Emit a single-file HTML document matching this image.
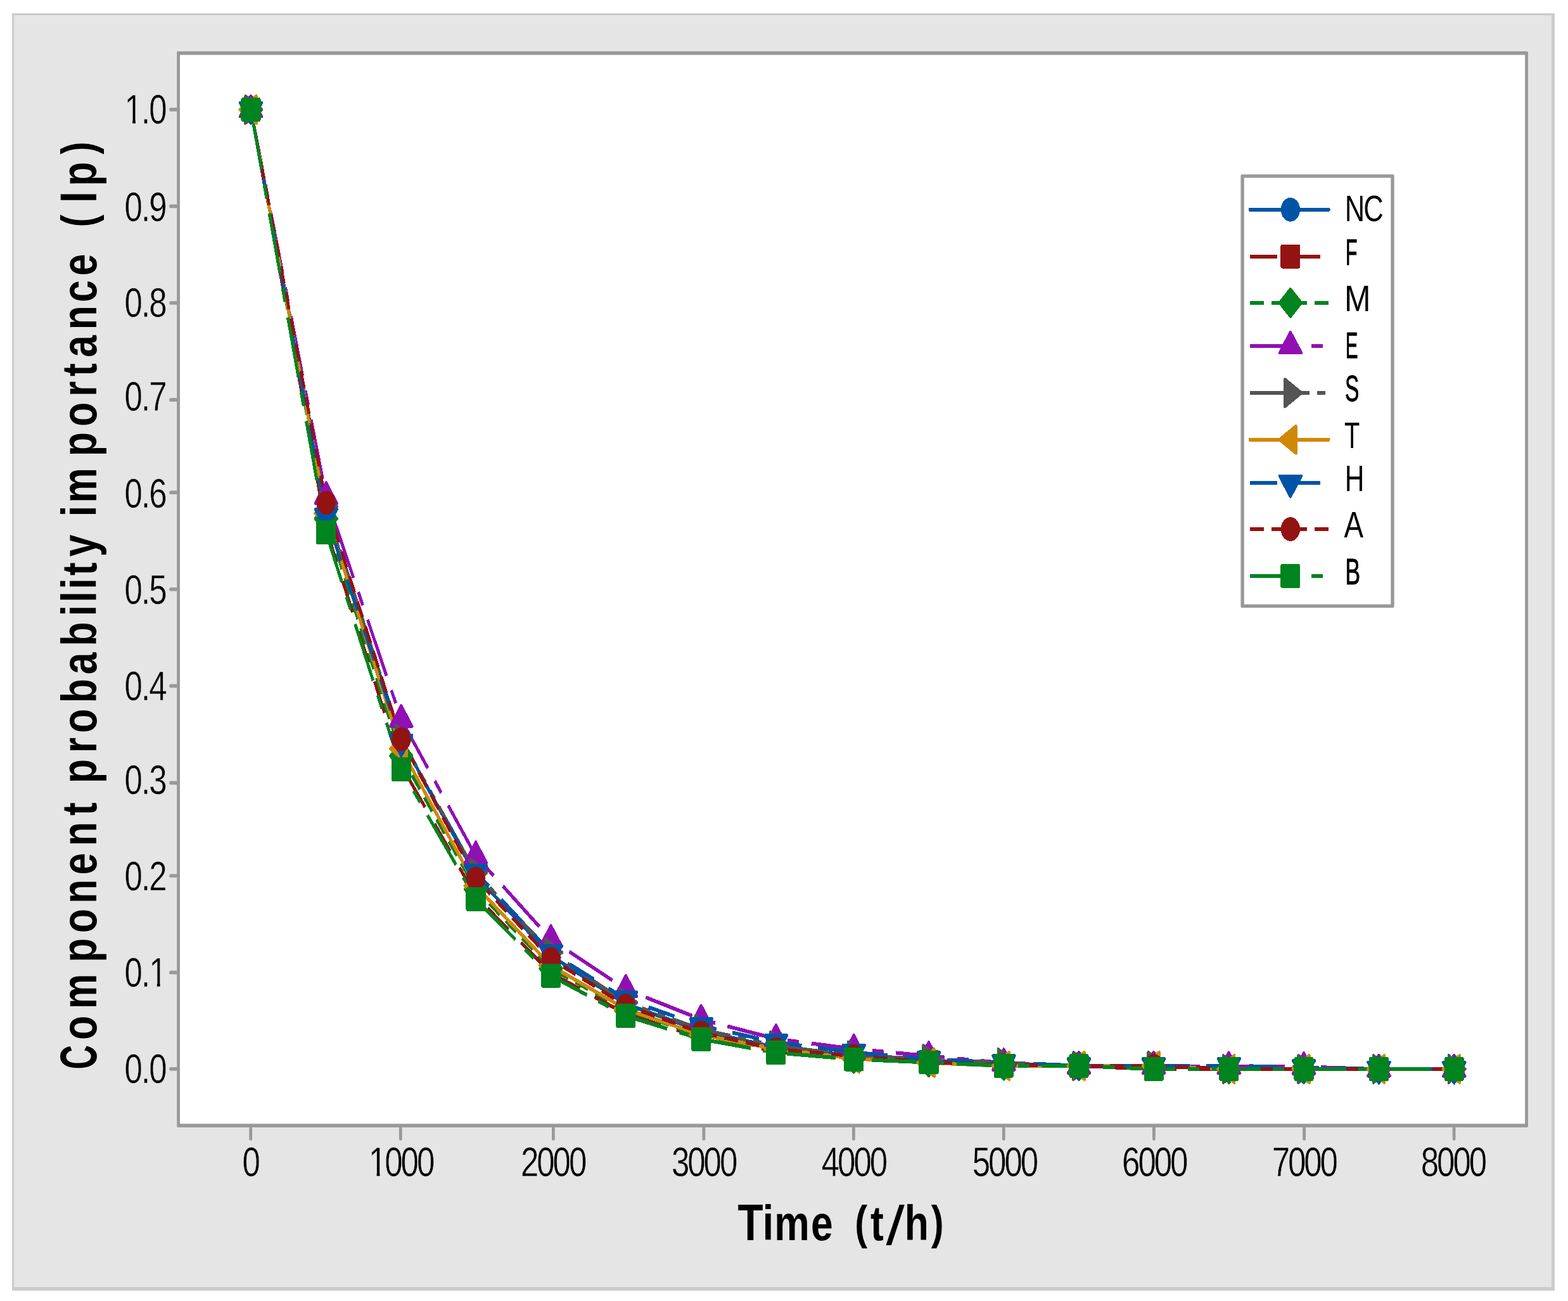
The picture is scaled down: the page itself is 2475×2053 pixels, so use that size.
<!DOCTYPE html>
<html lang="en">
<head>
<meta charset="utf-8">
<title>Component probability importance (Ip) vs Time (t/h)</title>
<style>
html,body{margin:0;padding:0;background:#ffffff;}
body{width:2475px;height:2053px;overflow:hidden;}
svg{display:block;}
text{font-family:"Liberation Sans",sans-serif;white-space:pre;}
</style>
</head>
<body>
<svg width="2475" height="2053" viewBox="0 0 2475 2053">
<rect x="19" y="21" width="2434.9" height="2015.7" fill="#cbcbcb"/>
<rect x="22.1" y="24" width="2426.8" height="2007" fill="#e5e5e5"/>
<rect x="279.2" y="81.1" width="2132.8" height="1697.9" rx="2" fill="#999999"/>
<rect x="284" y="86.7" width="2123.1" height="1686.6" fill="#ffffff"/>
<path d="M270 172.9 H280.2" stroke="#999999" stroke-width="5.7" stroke-linecap="round" fill="none"/>
<path d="M270 325.4 H280.2" stroke="#999999" stroke-width="5.7" stroke-linecap="round" fill="none"/>
<path d="M270 478 H280.2" stroke="#999999" stroke-width="5.7" stroke-linecap="round" fill="none"/>
<path d="M270 630.9 H280.2" stroke="#999999" stroke-width="5.7" stroke-linecap="round" fill="none"/>
<path d="M270 777.2 H280.2" stroke="#999999" stroke-width="5.7" stroke-linecap="round" fill="none"/>
<path d="M270 929.9 H280.2" stroke="#999999" stroke-width="5.7" stroke-linecap="round" fill="none"/>
<path d="M270 1082.4 H280.2" stroke="#999999" stroke-width="5.7" stroke-linecap="round" fill="none"/>
<path d="M270 1235.3 H280.2" stroke="#999999" stroke-width="5.7" stroke-linecap="round" fill="none"/>
<path d="M270 1382 H280.2" stroke="#999999" stroke-width="5.7" stroke-linecap="round" fill="none"/>
<path d="M270 1534.7 H280.2" stroke="#999999" stroke-width="5.7" stroke-linecap="round" fill="none"/>
<path d="M270 1686.9 H280.2" stroke="#999999" stroke-width="5.7" stroke-linecap="round" fill="none"/>
<path d="M395.7 1778 V1797.4" stroke="#999999" stroke-width="4.8" stroke-linecap="round" fill="none"/>
<path d="M632.3 1778 V1797.4" stroke="#999999" stroke-width="4.8" stroke-linecap="round" fill="none"/>
<path d="M873.4 1778 V1797.4" stroke="#999999" stroke-width="4.8" stroke-linecap="round" fill="none"/>
<path d="M1110.9 1778 V1797.4" stroke="#999999" stroke-width="4.8" stroke-linecap="round" fill="none"/>
<path d="M1347.4 1778 V1797.4" stroke="#999999" stroke-width="4.8" stroke-linecap="round" fill="none"/>
<path d="M1584.3 1778 V1797.4" stroke="#999999" stroke-width="4.8" stroke-linecap="round" fill="none"/>
<path d="M1821.4 1778 V1797.4" stroke="#999999" stroke-width="4.8" stroke-linecap="round" fill="none"/>
<path d="M2058.6 1778 V1797.4" stroke="#999999" stroke-width="4.8" stroke-linecap="round" fill="none"/>
<path d="M2295.1 1778 V1797.4" stroke="#999999" stroke-width="4.8" stroke-linecap="round" fill="none"/>
<text transform="translate(198 195.3) scale(0.785 1)" x="-1.96 31.73 47.34" y="0" font-size="65" font-weight="normal" fill="#000" stroke="#e5e5e5" stroke-width="0.5">1.0</text><rect transform="translate(198 195.3) scale(0.785 1)" x="1.85" y="-5.4" width="12.31" height="6.03" fill="#e5e5e5"/><rect transform="translate(198 195.3) scale(0.785 1)" x="20.35" y="-5.4" width="11.81" height="6.03" fill="#e5e5e5"/>
<text transform="translate(198 348.8) scale(0.785 1)" x="-1.96 31.73 47.34" y="0" font-size="65" font-weight="normal" fill="#000" stroke="#e5e5e5" stroke-width="0.5">0.9</text>
<text transform="translate(198 500.2) scale(0.785 1)" x="-1.96 31.73 47.34" y="0" font-size="65" font-weight="normal" fill="#000" stroke="#e5e5e5" stroke-width="0.5">0.8</text>
<text transform="translate(198 647.7) scale(0.785 1)" x="-1.96 31.73 47.34" y="0" font-size="65" font-weight="normal" fill="#000" stroke="#e5e5e5" stroke-width="0.5">0.7</text>
<text transform="translate(198 801) scale(0.785 1)" x="-1.96 31.73 47.34" y="0" font-size="65" font-weight="normal" fill="#000" stroke="#e5e5e5" stroke-width="0.5">0.6</text>
<text transform="translate(198 952.7) scale(0.785 1)" x="-1.96 31.73 47.34" y="0" font-size="65" font-weight="normal" fill="#000" stroke="#e5e5e5" stroke-width="0.5">0.5</text>
<text transform="translate(198 1104.8) scale(0.785 1)" x="-1.96 31.73 47.34" y="0" font-size="65" font-weight="normal" fill="#000" stroke="#e5e5e5" stroke-width="0.5">0.4</text>
<text transform="translate(198 1252.5) scale(0.785 1)" x="-1.96 31.73 47.34" y="0" font-size="65" font-weight="normal" fill="#000" stroke="#e5e5e5" stroke-width="0.5">0.3</text>
<text transform="translate(198 1404.8) scale(0.785 1)" x="-1.96 31.73 47.34" y="0" font-size="65" font-weight="normal" fill="#000" stroke="#e5e5e5" stroke-width="0.5">0.2</text>
<text transform="translate(198 1557.3) scale(0.785 1)" x="-1.96 31.73 47.34" y="0" font-size="65" font-weight="normal" fill="#000" stroke="#e5e5e5" stroke-width="0.5">0.1</text><rect transform="translate(198 1557.3) scale(0.785 1)" x="51.15" y="-5.4" width="12.31" height="6.03" fill="#e5e5e5"/><rect transform="translate(198 1557.3) scale(0.785 1)" x="69.65" y="-5.4" width="11.81" height="6.03" fill="#e5e5e5"/>
<text transform="translate(198 1709.4) scale(0.785 1)" x="-1.96 31.73 47.34" y="0" font-size="65" font-weight="normal" fill="#000" stroke="#e5e5e5" stroke-width="0.5">0.0</text>
<text transform="translate(384.05 1856.2) scale(0.785 1)" x="-1.96" y="0" font-size="65" font-weight="normal" fill="#000" stroke="#e5e5e5" stroke-width="0.5">0</text>
<text transform="translate(583.55 1856.2) scale(0.785 1)" x="-1.96 30.27 62.5 94.73" y="0" font-size="65" font-weight="normal" fill="#000" stroke="#e5e5e5" stroke-width="0.5">1000</text><rect transform="translate(583.55 1856.2) scale(0.785 1)" x="1.85" y="-5.4" width="12.31" height="6.03" fill="#e5e5e5"/><rect transform="translate(583.55 1856.2) scale(0.785 1)" x="20.35" y="-5.4" width="11.81" height="6.03" fill="#e5e5e5"/>
<text transform="translate(823.55 1856.2) scale(0.785 1)" x="-1.96 30.27 62.5 94.73" y="0" font-size="65" font-weight="normal" fill="#000" stroke="#e5e5e5" stroke-width="0.5">2000</text>
<text transform="translate(1061.55 1856.2) scale(0.785 1)" x="-1.96 30.27 62.5 94.73" y="0" font-size="65" font-weight="normal" fill="#000" stroke="#e5e5e5" stroke-width="0.5">3000</text>
<text transform="translate(1298.35 1856.2) scale(0.785 1)" x="-1.96 30.27 62.5 94.73" y="0" font-size="65" font-weight="normal" fill="#000" stroke="#e5e5e5" stroke-width="0.5">4000</text>
<text transform="translate(1536.35 1856.2) scale(0.785 1)" x="-1.96 30.27 62.5 94.73" y="0" font-size="65" font-weight="normal" fill="#000" stroke="#e5e5e5" stroke-width="0.5">5000</text>
<text transform="translate(1772.65 1856.2) scale(0.785 1)" x="-1.96 30.27 62.5 94.73" y="0" font-size="65" font-weight="normal" fill="#000" stroke="#e5e5e5" stroke-width="0.5">6000</text>
<text transform="translate(2009.25 1856.2) scale(0.785 1)" x="-1.96 30.27 62.5 94.73" y="0" font-size="65" font-weight="normal" fill="#000" stroke="#e5e5e5" stroke-width="0.5">7000</text>
<text transform="translate(2244.35 1856.2) scale(0.785 1)" x="-1.96 30.27 62.5 94.73" y="0" font-size="65" font-weight="normal" fill="#000" stroke="#e5e5e5" stroke-width="0.5">8000</text>
<text transform="translate(0 1957.1) scale(0.8 1)" x="1455.62 1504.64 1527.67 1600.12 1643.5 1686.65 1717.64 1748.04 1784.62 1837.29" y="0 0 0 0 0 -2.6 0 7 0 -2.6" font-size="78" font-weight="bold" fill="#000" xml:space="preserve"><tspan font-size="82">T</tspan>ime <tspan font-size="74.5">(</tspan>t<tspan font-size="88" font-weight="normal" textLength="36.67" lengthAdjust="spacingAndGlyphs">/</tspan>h<tspan font-size="74.5">)</tspan></text>
<text transform="translate(151.8 1686) rotate(-90) scale(0.8 1)" x="-1.94 56.3 117.61 209.39 267.3 325.4 381.99 438.77 498.64 524.61 562.52 622.4 661.68 720.89 777.11 833.08 892.27 919.33 945.39 972.08 1009.53 1052.91 1088.58 1115.73 1207.52 1266.18 1325.34 1365.08 1402.86 1457.27 1511.18 1563.37 1606.75 1659.28 1707.23 1740.58 1803.04" y="0 0 0 0 0 0 0 0 0 0 0 0 0 0 0 0 0 0 0 0 0 0 0 0 0 0 0 0 0 0 0 0 0 -2.6 0 0 -2.6" font-size="78" font-weight="bold" fill="#000" xml:space="preserve"><tspan font-size="82" textLength="47.97" lengthAdjust="spacingAndGlyphs">C</tspan>omponent probability importance <tspan font-size="74.5">(</tspan><tspan font-size="82">I</tspan>p<tspan font-size="74.5">)</tspan></text>
<g transform="scale(0.8 1)" shape-rendering="crispEdges">
<polyline points="495,173 643.38,805 791.62,1166.35 938.75,1381.95 1087,1508.15 1234.88,1584.45 1383.38,1626.9 1531.12,1652.9 1684.5,1666.2 1832.5,1673.5 1980.5,1679 2128.75,1682 2276.37,1682 2424.62,1687 2572.5,1687 2720.62,1687 2869.12,1687" fill="none" stroke="#0054A6" stroke-width="6" stroke-linejoin="round"/>
<polyline points="495,173 643.38,834.3 791.62,1207.9 938.75,1414.1 1087,1535.7 1234.88,1600.1 1383.38,1637.3 1531.12,1659.2 1684.5,1670.1 1832.5,1675.5 1980.5,1681.4 2128.75,1682 2276.37,1687.1 2424.62,1686.8 2572.5,1687 2720.62,1687 2869.12,1687" fill="none" stroke="#931313" stroke-width="6" stroke-linejoin="round" stroke-dasharray="53.1 32.1"/>
<polyline points="495,173 643.38,818.5 791.62,1192.8 938.75,1403.3 1087,1528.4 1234.88,1594 1383.38,1634.5 1531.12,1655.4 1684.5,1670.3 1832.5,1676.3 1980.5,1681.4 2128.75,1682 2276.37,1682 2424.62,1687 2572.5,1687 2720.62,1687 2869.12,1687" fill="none" stroke="#00841F" stroke-width="6" stroke-linejoin="round" stroke-dasharray="27.2 15.2"/>
<polyline points="495,173 643.38,783.4 791.62,1135.3 938.75,1350.7 1087,1482.5 1234.88,1561.3 1383.38,1608.6 1531.12,1639.4 1684.5,1655.2 1832.5,1666.3 1980.5,1677.4 2128.75,1682.6 2276.37,1682.6 2424.62,1682.6 2572.5,1683.3 2720.62,1687.3 2869.12,1687.3" fill="none" stroke="#9010B4" stroke-width="6" stroke-linejoin="round" stroke-dasharray="96.3 24.5 22.5 24.5"/>
<polyline points="495,173 643.38,799.5 791.62,1166 938.75,1377.2 1087,1503 1234.88,1582 1383.38,1624.4 1531.12,1650.2 1684.5,1665.9 1832.5,1671 1980.5,1677 2128.75,1682 2276.37,1682 2424.62,1687 2572.5,1687 2720.62,1687 2869.12,1687" fill="none" stroke="#545454" stroke-width="6" stroke-linejoin="round" stroke-dasharray="117.4 15.1 16.1 15.1 16.1 15.1"/>
<polyline points="495,173 643.38,810 791.62,1181.6 938.75,1398 1087,1523.9 1234.88,1592.5 1383.38,1633 1531.12,1655.4 1684.5,1670.4 1832.5,1677 1980.5,1682 2128.75,1682 2276.37,1682 2424.62,1687 2572.5,1687 2720.62,1687 2869.12,1687" fill="none" stroke="#D08807" stroke-width="6" stroke-linejoin="round"/>
<polyline points="495,173 643.38,814.7 791.62,1171.2 938.75,1376.4 1087,1503 1234.88,1576.8 1383.38,1618.6 1531.12,1644.8 1684.5,1660.5 1832.5,1671.7 1980.5,1676.8 2128.75,1681.6 2276.37,1681.6 2424.62,1681.6 2572.5,1684.4 2720.62,1687.2 2869.12,1687.2" fill="none" stroke="#0054A6" stroke-width="6" stroke-linejoin="round" stroke-dasharray="53.1 32.1"/>
<polyline points="495,173 643.38,793.4 791.62,1166.7 938.75,1386.7 1087,1513.3 1234.88,1586.9 1383.38,1629.4 1531.12,1655.6 1684.5,1666.5 1832.5,1676 1980.5,1681 2128.75,1682 2276.37,1682 2424.62,1687 2572.5,1687 2720.62,1687 2869.12,1687" fill="none" stroke="#931313" stroke-width="6" stroke-linejoin="round" stroke-dasharray="27.2 15.2"/>
<polyline points="495,173 643.38,840.3 791.62,1213.9 938.75,1419.1 1087,1539.7 1234.88,1603.1 1383.38,1639.8 1531.12,1661.2 1684.5,1671.6 1832.5,1676.5 1980.5,1681.9 2128.75,1682 2276.37,1687.1 2424.62,1686.8 2572.5,1687 2720.62,1687 2869.12,1687" fill="none" stroke="#00841F" stroke-width="6" stroke-linejoin="round" stroke-dasharray="96.3 24.5 22.5 24.5"/>
<circle cx="495" cy="173" r="18.9" fill="#0054A6"/>
<circle cx="643.38" cy="805" r="18.9" fill="#0054A6"/>
<circle cx="791.62" cy="1166.35" r="18.9" fill="#0054A6"/>
<circle cx="938.75" cy="1381.95" r="18.9" fill="#0054A6"/>
<circle cx="1087" cy="1508.15" r="18.9" fill="#0054A6"/>
<circle cx="1234.88" cy="1584.45" r="18.9" fill="#0054A6"/>
<circle cx="1383.38" cy="1626.9" r="18.9" fill="#0054A6"/>
<circle cx="1531.12" cy="1652.9" r="18.9" fill="#0054A6"/>
<circle cx="1684.5" cy="1666.2" r="18.9" fill="#0054A6"/>
<circle cx="1832.5" cy="1673.5" r="18.9" fill="#0054A6"/>
<circle cx="1980.5" cy="1679" r="18.9" fill="#0054A6"/>
<circle cx="2128.75" cy="1682" r="18.9" fill="#0054A6"/>
<circle cx="2276.37" cy="1682" r="18.9" fill="#0054A6"/>
<circle cx="2424.62" cy="1687" r="18.9" fill="#0054A6"/>
<circle cx="2572.5" cy="1687" r="18.9" fill="#0054A6"/>
<circle cx="2720.62" cy="1687" r="18.9" fill="#0054A6"/>
<circle cx="2869.12" cy="1687" r="18.9" fill="#0054A6"/>
<rect x="475.6" y="154.1" width="38.8" height="37.8" rx="3.6" ry="3" fill="#931313"/>
<rect x="623.98" y="815.4" width="38.8" height="37.8" rx="3.6" ry="3" fill="#931313"/>
<rect x="772.22" y="1189" width="38.8" height="37.8" rx="3.6" ry="3" fill="#931313"/>
<rect x="919.35" y="1395.2" width="38.8" height="37.8" rx="3.6" ry="3" fill="#931313"/>
<rect x="1067.6" y="1516.8" width="38.8" height="37.8" rx="3.6" ry="3" fill="#931313"/>
<rect x="1215.47" y="1581.2" width="38.8" height="37.8" rx="3.6" ry="3" fill="#931313"/>
<rect x="1363.97" y="1618.4" width="38.8" height="37.8" rx="3.6" ry="3" fill="#931313"/>
<rect x="1511.72" y="1640.3" width="38.8" height="37.8" rx="3.6" ry="3" fill="#931313"/>
<rect x="1665.1" y="1651.2" width="38.8" height="37.8" rx="3.6" ry="3" fill="#931313"/>
<rect x="1813.1" y="1656.6" width="38.8" height="37.8" rx="3.6" ry="3" fill="#931313"/>
<rect x="1961.1" y="1662.5" width="38.8" height="37.8" rx="3.6" ry="3" fill="#931313"/>
<rect x="2109.35" y="1663.1" width="38.8" height="37.8" rx="3.6" ry="3" fill="#931313"/>
<rect x="2256.97" y="1668.2" width="38.8" height="37.8" rx="3.6" ry="3" fill="#931313"/>
<rect x="2405.22" y="1667.9" width="38.8" height="37.8" rx="3.6" ry="3" fill="#931313"/>
<rect x="2553.1" y="1668.1" width="38.8" height="37.8" rx="3.6" ry="3" fill="#931313"/>
<rect x="2701.22" y="1668.1" width="38.8" height="37.8" rx="3.6" ry="3" fill="#931313"/>
<rect x="2849.72" y="1668.1" width="38.8" height="37.8" rx="3.6" ry="3" fill="#931313"/>
<path d="M495 151.4l21.3 21.6l-21.3 21.6l-21.3 -21.6z" fill="#00841F" stroke="#00841F" stroke-width="5" stroke-linejoin="round"/>
<path d="M643.38 796.9l21.3 21.6l-21.3 21.6l-21.3 -21.6z" fill="#00841F" stroke="#00841F" stroke-width="5" stroke-linejoin="round"/>
<path d="M791.62 1171.2l21.3 21.6l-21.3 21.6l-21.3 -21.6z" fill="#00841F" stroke="#00841F" stroke-width="5" stroke-linejoin="round"/>
<path d="M938.75 1381.7l21.3 21.6l-21.3 21.6l-21.3 -21.6z" fill="#00841F" stroke="#00841F" stroke-width="5" stroke-linejoin="round"/>
<path d="M1087 1506.8l21.3 21.6l-21.3 21.6l-21.3 -21.6z" fill="#00841F" stroke="#00841F" stroke-width="5" stroke-linejoin="round"/>
<path d="M1234.88 1572.4l21.3 21.6l-21.3 21.6l-21.3 -21.6z" fill="#00841F" stroke="#00841F" stroke-width="5" stroke-linejoin="round"/>
<path d="M1383.38 1612.9l21.3 21.6l-21.3 21.6l-21.3 -21.6z" fill="#00841F" stroke="#00841F" stroke-width="5" stroke-linejoin="round"/>
<path d="M1531.12 1633.8l21.3 21.6l-21.3 21.6l-21.3 -21.6z" fill="#00841F" stroke="#00841F" stroke-width="5" stroke-linejoin="round"/>
<path d="M1684.5 1648.7l21.3 21.6l-21.3 21.6l-21.3 -21.6z" fill="#00841F" stroke="#00841F" stroke-width="5" stroke-linejoin="round"/>
<path d="M1832.5 1654.7l21.3 21.6l-21.3 21.6l-21.3 -21.6z" fill="#00841F" stroke="#00841F" stroke-width="5" stroke-linejoin="round"/>
<path d="M1980.5 1659.8l21.3 21.6l-21.3 21.6l-21.3 -21.6z" fill="#00841F" stroke="#00841F" stroke-width="5" stroke-linejoin="round"/>
<path d="M2128.75 1660.4l21.3 21.6l-21.3 21.6l-21.3 -21.6z" fill="#00841F" stroke="#00841F" stroke-width="5" stroke-linejoin="round"/>
<path d="M2276.37 1660.4l21.3 21.6l-21.3 21.6l-21.3 -21.6z" fill="#00841F" stroke="#00841F" stroke-width="5" stroke-linejoin="round"/>
<path d="M2424.62 1665.4l21.3 21.6l-21.3 21.6l-21.3 -21.6z" fill="#00841F" stroke="#00841F" stroke-width="5" stroke-linejoin="round"/>
<path d="M2572.5 1665.4l21.3 21.6l-21.3 21.6l-21.3 -21.6z" fill="#00841F" stroke="#00841F" stroke-width="5" stroke-linejoin="round"/>
<path d="M2720.62 1665.4l21.3 21.6l-21.3 21.6l-21.3 -21.6z" fill="#00841F" stroke="#00841F" stroke-width="5" stroke-linejoin="round"/>
<path d="M2869.12 1665.4l21.3 21.6l-21.3 21.6l-21.3 -21.6z" fill="#00841F" stroke="#00841F" stroke-width="5" stroke-linejoin="round"/>
<path d="M495 151.2l21.5 32.7h-43z" fill="#9010B4" stroke="#9010B4" stroke-width="5" stroke-linejoin="round"/>
<path d="M643.38 761.6l21.5 32.7h-43z" fill="#9010B4" stroke="#9010B4" stroke-width="5" stroke-linejoin="round"/>
<path d="M791.62 1113.5l21.5 32.7h-43z" fill="#9010B4" stroke="#9010B4" stroke-width="5" stroke-linejoin="round"/>
<path d="M938.75 1328.9l21.5 32.7h-43z" fill="#9010B4" stroke="#9010B4" stroke-width="5" stroke-linejoin="round"/>
<path d="M1087 1460.7l21.5 32.7h-43z" fill="#9010B4" stroke="#9010B4" stroke-width="5" stroke-linejoin="round"/>
<path d="M1234.88 1539.5l21.5 32.7h-43z" fill="#9010B4" stroke="#9010B4" stroke-width="5" stroke-linejoin="round"/>
<path d="M1383.38 1586.8l21.5 32.7h-43z" fill="#9010B4" stroke="#9010B4" stroke-width="5" stroke-linejoin="round"/>
<path d="M1531.12 1617.6l21.5 32.7h-43z" fill="#9010B4" stroke="#9010B4" stroke-width="5" stroke-linejoin="round"/>
<path d="M1684.5 1633.4l21.5 32.7h-43z" fill="#9010B4" stroke="#9010B4" stroke-width="5" stroke-linejoin="round"/>
<path d="M1832.5 1644.5l21.5 32.7h-43z" fill="#9010B4" stroke="#9010B4" stroke-width="5" stroke-linejoin="round"/>
<path d="M1980.5 1655.6l21.5 32.7h-43z" fill="#9010B4" stroke="#9010B4" stroke-width="5" stroke-linejoin="round"/>
<path d="M2128.75 1660.8l21.5 32.7h-43z" fill="#9010B4" stroke="#9010B4" stroke-width="5" stroke-linejoin="round"/>
<path d="M2276.37 1660.8l21.5 32.7h-43z" fill="#9010B4" stroke="#9010B4" stroke-width="5" stroke-linejoin="round"/>
<path d="M2424.62 1660.8l21.5 32.7h-43z" fill="#9010B4" stroke="#9010B4" stroke-width="5" stroke-linejoin="round"/>
<path d="M2572.5 1661.5l21.5 32.7h-43z" fill="#9010B4" stroke="#9010B4" stroke-width="5" stroke-linejoin="round"/>
<path d="M2720.62 1665.5l21.5 32.7h-43z" fill="#9010B4" stroke="#9010B4" stroke-width="5" stroke-linejoin="round"/>
<path d="M2869.12 1665.5l21.5 32.7h-43z" fill="#9010B4" stroke="#9010B4" stroke-width="5" stroke-linejoin="round"/>
<path d="M516.8 173l-32.7 21.5v-43z" fill="#545454" stroke="#545454" stroke-width="5" stroke-linejoin="round"/>
<path d="M665.17 799.5l-32.7 21.5v-43z" fill="#545454" stroke="#545454" stroke-width="5" stroke-linejoin="round"/>
<path d="M813.42 1166l-32.7 21.5v-43z" fill="#545454" stroke="#545454" stroke-width="5" stroke-linejoin="round"/>
<path d="M960.55 1377.2l-32.7 21.5v-43z" fill="#545454" stroke="#545454" stroke-width="5" stroke-linejoin="round"/>
<path d="M1108.8 1503l-32.7 21.5v-43z" fill="#545454" stroke="#545454" stroke-width="5" stroke-linejoin="round"/>
<path d="M1256.67 1582l-32.7 21.5v-43z" fill="#545454" stroke="#545454" stroke-width="5" stroke-linejoin="round"/>
<path d="M1405.17 1624.4l-32.7 21.5v-43z" fill="#545454" stroke="#545454" stroke-width="5" stroke-linejoin="round"/>
<path d="M1552.92 1650.2l-32.7 21.5v-43z" fill="#545454" stroke="#545454" stroke-width="5" stroke-linejoin="round"/>
<path d="M1706.3 1665.9l-32.7 21.5v-43z" fill="#545454" stroke="#545454" stroke-width="5" stroke-linejoin="round"/>
<path d="M1854.3 1671l-32.7 21.5v-43z" fill="#545454" stroke="#545454" stroke-width="5" stroke-linejoin="round"/>
<path d="M2002.3 1677l-32.7 21.5v-43z" fill="#545454" stroke="#545454" stroke-width="5" stroke-linejoin="round"/>
<path d="M2150.55 1682l-32.7 21.5v-43z" fill="#545454" stroke="#545454" stroke-width="5" stroke-linejoin="round"/>
<path d="M2298.17 1682l-32.7 21.5v-43z" fill="#545454" stroke="#545454" stroke-width="5" stroke-linejoin="round"/>
<path d="M2446.43 1687l-32.7 21.5v-43z" fill="#545454" stroke="#545454" stroke-width="5" stroke-linejoin="round"/>
<path d="M2594.3 1687l-32.7 21.5v-43z" fill="#545454" stroke="#545454" stroke-width="5" stroke-linejoin="round"/>
<path d="M2742.43 1687l-32.7 21.5v-43z" fill="#545454" stroke="#545454" stroke-width="5" stroke-linejoin="round"/>
<path d="M2890.93 1687l-32.7 21.5v-43z" fill="#545454" stroke="#545454" stroke-width="5" stroke-linejoin="round"/>
<path d="M473.2 173l32.7 21.5v-43z" fill="#D08807" stroke="#D08807" stroke-width="5" stroke-linejoin="round"/>
<path d="M621.58 810l32.7 21.5v-43z" fill="#D08807" stroke="#D08807" stroke-width="5" stroke-linejoin="round"/>
<path d="M769.82 1181.6l32.7 21.5v-43z" fill="#D08807" stroke="#D08807" stroke-width="5" stroke-linejoin="round"/>
<path d="M916.95 1398l32.7 21.5v-43z" fill="#D08807" stroke="#D08807" stroke-width="5" stroke-linejoin="round"/>
<path d="M1065.2 1523.9l32.7 21.5v-43z" fill="#D08807" stroke="#D08807" stroke-width="5" stroke-linejoin="round"/>
<path d="M1213.08 1592.5l32.7 21.5v-43z" fill="#D08807" stroke="#D08807" stroke-width="5" stroke-linejoin="round"/>
<path d="M1361.58 1633l32.7 21.5v-43z" fill="#D08807" stroke="#D08807" stroke-width="5" stroke-linejoin="round"/>
<path d="M1509.33 1655.4l32.7 21.5v-43z" fill="#D08807" stroke="#D08807" stroke-width="5" stroke-linejoin="round"/>
<path d="M1662.7 1670.4l32.7 21.5v-43z" fill="#D08807" stroke="#D08807" stroke-width="5" stroke-linejoin="round"/>
<path d="M1810.7 1677l32.7 21.5v-43z" fill="#D08807" stroke="#D08807" stroke-width="5" stroke-linejoin="round"/>
<path d="M1958.7 1682l32.7 21.5v-43z" fill="#D08807" stroke="#D08807" stroke-width="5" stroke-linejoin="round"/>
<path d="M2106.95 1682l32.7 21.5v-43z" fill="#D08807" stroke="#D08807" stroke-width="5" stroke-linejoin="round"/>
<path d="M2254.57 1682l32.7 21.5v-43z" fill="#D08807" stroke="#D08807" stroke-width="5" stroke-linejoin="round"/>
<path d="M2402.82 1687l32.7 21.5v-43z" fill="#D08807" stroke="#D08807" stroke-width="5" stroke-linejoin="round"/>
<path d="M2550.7 1687l32.7 21.5v-43z" fill="#D08807" stroke="#D08807" stroke-width="5" stroke-linejoin="round"/>
<path d="M2698.82 1687l32.7 21.5v-43z" fill="#D08807" stroke="#D08807" stroke-width="5" stroke-linejoin="round"/>
<path d="M2847.32 1687l32.7 21.5v-43z" fill="#D08807" stroke="#D08807" stroke-width="5" stroke-linejoin="round"/>
<path d="M495 194.8l21.5 -32.7h-43z" fill="#0054A6" stroke="#0054A6" stroke-width="5" stroke-linejoin="round"/>
<path d="M643.38 836.5l21.5 -32.7h-43z" fill="#0054A6" stroke="#0054A6" stroke-width="5" stroke-linejoin="round"/>
<path d="M791.62 1193l21.5 -32.7h-43z" fill="#0054A6" stroke="#0054A6" stroke-width="5" stroke-linejoin="round"/>
<path d="M938.75 1398.2l21.5 -32.7h-43z" fill="#0054A6" stroke="#0054A6" stroke-width="5" stroke-linejoin="round"/>
<path d="M1087 1524.8l21.5 -32.7h-43z" fill="#0054A6" stroke="#0054A6" stroke-width="5" stroke-linejoin="round"/>
<path d="M1234.88 1598.6l21.5 -32.7h-43z" fill="#0054A6" stroke="#0054A6" stroke-width="5" stroke-linejoin="round"/>
<path d="M1383.38 1640.4l21.5 -32.7h-43z" fill="#0054A6" stroke="#0054A6" stroke-width="5" stroke-linejoin="round"/>
<path d="M1531.12 1666.6l21.5 -32.7h-43z" fill="#0054A6" stroke="#0054A6" stroke-width="5" stroke-linejoin="round"/>
<path d="M1684.5 1682.3l21.5 -32.7h-43z" fill="#0054A6" stroke="#0054A6" stroke-width="5" stroke-linejoin="round"/>
<path d="M1832.5 1693.5l21.5 -32.7h-43z" fill="#0054A6" stroke="#0054A6" stroke-width="5" stroke-linejoin="round"/>
<path d="M1980.5 1698.6l21.5 -32.7h-43z" fill="#0054A6" stroke="#0054A6" stroke-width="5" stroke-linejoin="round"/>
<path d="M2128.75 1703.4l21.5 -32.7h-43z" fill="#0054A6" stroke="#0054A6" stroke-width="5" stroke-linejoin="round"/>
<path d="M2276.37 1703.4l21.5 -32.7h-43z" fill="#0054A6" stroke="#0054A6" stroke-width="5" stroke-linejoin="round"/>
<path d="M2424.62 1703.4l21.5 -32.7h-43z" fill="#0054A6" stroke="#0054A6" stroke-width="5" stroke-linejoin="round"/>
<path d="M2572.5 1706.2l21.5 -32.7h-43z" fill="#0054A6" stroke="#0054A6" stroke-width="5" stroke-linejoin="round"/>
<path d="M2720.62 1709l21.5 -32.7h-43z" fill="#0054A6" stroke="#0054A6" stroke-width="5" stroke-linejoin="round"/>
<path d="M2869.12 1709l21.5 -32.7h-43z" fill="#0054A6" stroke="#0054A6" stroke-width="5" stroke-linejoin="round"/>
<circle cx="495" cy="173" r="18.9" fill="#931313"/>
<circle cx="643.38" cy="793.4" r="18.9" fill="#931313"/>
<circle cx="791.62" cy="1166.7" r="18.9" fill="#931313"/>
<circle cx="938.75" cy="1386.7" r="18.9" fill="#931313"/>
<circle cx="1087" cy="1513.3" r="18.9" fill="#931313"/>
<circle cx="1234.88" cy="1586.9" r="18.9" fill="#931313"/>
<circle cx="1383.38" cy="1629.4" r="18.9" fill="#931313"/>
<circle cx="1531.12" cy="1655.6" r="18.9" fill="#931313"/>
<circle cx="1684.5" cy="1666.5" r="18.9" fill="#931313"/>
<circle cx="1832.5" cy="1676" r="18.9" fill="#931313"/>
<circle cx="1980.5" cy="1681" r="18.9" fill="#931313"/>
<circle cx="2128.75" cy="1682" r="18.9" fill="#931313"/>
<circle cx="2276.37" cy="1682" r="18.9" fill="#931313"/>
<circle cx="2424.62" cy="1687" r="18.9" fill="#931313"/>
<circle cx="2572.5" cy="1687" r="18.9" fill="#931313"/>
<circle cx="2720.62" cy="1687" r="18.9" fill="#931313"/>
<circle cx="2869.12" cy="1687" r="18.9" fill="#931313"/>
<rect x="475.6" y="154.1" width="38.8" height="37.8" rx="3.6" ry="3" fill="#00841F"/>
<rect x="623.98" y="821.4" width="38.8" height="37.8" rx="3.6" ry="3" fill="#00841F"/>
<rect x="772.22" y="1195" width="38.8" height="37.8" rx="3.6" ry="3" fill="#00841F"/>
<rect x="919.35" y="1400.2" width="38.8" height="37.8" rx="3.6" ry="3" fill="#00841F"/>
<rect x="1067.6" y="1520.8" width="38.8" height="37.8" rx="3.6" ry="3" fill="#00841F"/>
<rect x="1215.47" y="1584.2" width="38.8" height="37.8" rx="3.6" ry="3" fill="#00841F"/>
<rect x="1363.97" y="1620.9" width="38.8" height="37.8" rx="3.6" ry="3" fill="#00841F"/>
<rect x="1511.72" y="1642.3" width="38.8" height="37.8" rx="3.6" ry="3" fill="#00841F"/>
<rect x="1665.1" y="1652.7" width="38.8" height="37.8" rx="3.6" ry="3" fill="#00841F"/>
<rect x="1813.1" y="1657.6" width="38.8" height="37.8" rx="3.6" ry="3" fill="#00841F"/>
<rect x="1961.1" y="1663" width="38.8" height="37.8" rx="3.6" ry="3" fill="#00841F"/>
<rect x="2109.35" y="1663.1" width="38.8" height="37.8" rx="3.6" ry="3" fill="#00841F"/>
<rect x="2256.97" y="1668.2" width="38.8" height="37.8" rx="3.6" ry="3" fill="#00841F"/>
<rect x="2405.22" y="1667.9" width="38.8" height="37.8" rx="3.6" ry="3" fill="#00841F"/>
<rect x="2553.1" y="1668.1" width="38.8" height="37.8" rx="3.6" ry="3" fill="#00841F"/>
<rect x="2701.22" y="1668.1" width="38.8" height="37.8" rx="3.6" ry="3" fill="#00841F"/>
<rect x="2849.72" y="1668.1" width="38.8" height="37.8" rx="3.6" ry="3" fill="#00841F"/>
</g>
<rect x="1958.4" y="275.2" width="242.3" height="683.8" rx="2" fill="#999999"/>
<rect x="1963.8" y="280.6" width="231.5" height="673" fill="#ffffff"/>
<g transform="scale(0.8 1)" shape-rendering="crispEdges">
<path d="M2466.37 330.8H2621.5" fill="none" stroke="#0054A6" stroke-width="6" stroke-linecap="round"/>
<circle cx="2546.12" cy="330.8" r="18.9" fill="#0054A6"/>
<path d="M2466.37 404.6H2621.5" fill="none" stroke="#931313" stroke-width="6" stroke-dasharray="53.1 32.1"/>
<rect x="2526.72" y="385.7" width="38.8" height="37.8" rx="3.6" ry="3" fill="#931313"/>
<path d="M2466.37 477.8H2621.5" fill="none" stroke="#00841F" stroke-width="6" stroke-dasharray="27.2 15.2"/>
<path d="M2546.12 456.2l21.3 21.6l-21.3 21.6l-21.3 -21.6z" fill="#00841F" stroke="#00841F" stroke-width="5" stroke-linejoin="round"/>
<path d="M2466.37 546H2621.5" fill="none" stroke="#9010B4" stroke-width="6" stroke-dasharray="96.3 24.5 22.5 24.5"/>
<path d="M2546.12 524.2l21.5 32.7h-43z" fill="#9010B4" stroke="#9010B4" stroke-width="5" stroke-linejoin="round"/>
<path d="M2466.37 620H2621.5" fill="none" stroke="#545454" stroke-width="6" stroke-dasharray="117.4 15.1 16.1 15.1 16.1 15.1"/>
<path d="M2567.93 620l-32.7 21.5v-43z" fill="#545454" stroke="#545454" stroke-width="5" stroke-linejoin="round"/>
<path d="M2466.37 693.7H2621.5" fill="none" stroke="#D08807" stroke-width="6" stroke-linecap="round"/>
<path d="M2524.32 693.7l32.7 21.5v-43z" fill="#D08807" stroke="#D08807" stroke-width="5" stroke-linejoin="round"/>
<path d="M2466.37 761.9H2621.5" fill="none" stroke="#0054A6" stroke-width="6" stroke-dasharray="53.1 32.1"/>
<path d="M2546.12 783.7l21.5 -32.7h-43z" fill="#0054A6" stroke="#0054A6" stroke-width="5" stroke-linejoin="round"/>
<path d="M2466.37 835H2621.5" fill="none" stroke="#931313" stroke-width="6" stroke-dasharray="27.2 15.2"/>
<circle cx="2546.12" cy="835" r="18.9" fill="#931313"/>
<path d="M2466.37 908.9H2621.5" fill="none" stroke="#00841F" stroke-width="6" stroke-dasharray="96.3 24.5 22.5 24.5"/>
<rect x="2526.72" y="890" width="38.8" height="37.8" rx="3.6" ry="3" fill="#00841F"/>
</g>
<text transform="translate(2126.2 348.8) scale(0.7643 1)" x="-4.68 34.02" y="0" font-size="57" font-weight="normal" fill="#000">NC</text>
<text transform="translate(2126.2 417.7) scale(0.5384 1)" x="-4.68" y="0" font-size="57" font-weight="normal" fill="#000" stroke="#000000" stroke-width="0.9">F</text>
<text transform="translate(2126.2 490.7) scale(0.8733 1)" x="-4.68" y="0" font-size="57" font-weight="normal" fill="#000">M</text>
<text transform="translate(2126.2 564.6) scale(0.5211 1)" x="-4.68" y="0" font-size="57" font-weight="normal" fill="#000" stroke="#000000" stroke-width="0.9">E</text>
<text transform="translate(2124.6 632.6) scale(0.5882 1)" x="-2.59" y="0" font-size="57" font-weight="normal" fill="#000" stroke="#000000" stroke-width="0.9">S</text>
<text transform="translate(2122.8 706.8) scale(0.6981 1)" x="-1.28" y="0" font-size="57" font-weight="normal" fill="#000">T</text>
<text transform="translate(2126.2 775) scale(0.7444 1)" x="-4.68" y="0" font-size="57" font-weight="normal" fill="#000">H</text>
<text transform="translate(2121.6 848) scale(0.8043 1)" x="-0.11" y="0" font-size="57" font-weight="normal" fill="#000">A</text>
<text transform="translate(2126.2 921.5) scale(0.6296 1)" x="-4.68" y="0" font-size="57" font-weight="normal" fill="#000" stroke="#000000" stroke-width="0.9">B</text>
</svg>
</body>
</html>
